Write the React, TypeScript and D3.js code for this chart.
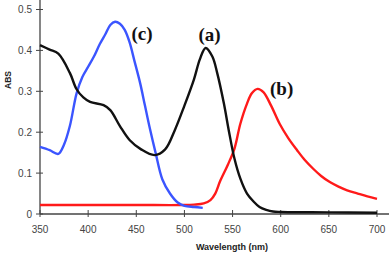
import React, { useEffect, useRef } from 'react';
import * as d3 from 'd3';

// curve (a) black
const aNm = [350, 360, 369, 381, 388, 395, 402, 416, 423, 433, 443, 455, 469, 480, 490, 500, 510, 516, 522, 529, 534, 541, 546, 552, 558, 565, 572, 578, 585, 592, 600, 650, 700];
const aAbs = [0.413, 0.402, 0.392, 0.345, 0.305, 0.285, 0.274, 0.266, 0.254, 0.215, 0.181, 0.158, 0.144, 0.158, 0.205, 0.265, 0.33, 0.378, 0.406, 0.385, 0.345, 0.27, 0.205, 0.135, 0.087, 0.05, 0.03, 0.017, 0.01, 0.006, 0.005, 0.004, 0.003];

// curve (b) red
const bNm = [350, 400, 450, 500, 510, 520, 527, 532, 537, 545, 552, 558, 565, 570, 576, 582, 590, 599, 608, 617, 625, 634, 642, 651, 660, 669, 680, 690, 700];
const bAbs = [0.022, 0.022, 0.022, 0.022, 0.023, 0.026, 0.034, 0.05, 0.08, 0.12, 0.16, 0.22, 0.27, 0.295, 0.306, 0.298, 0.265, 0.22, 0.185, 0.156, 0.132, 0.11, 0.093, 0.078, 0.067, 0.058, 0.05, 0.043, 0.037];

// curve (c) blue
const cNm = [350, 360, 369, 375, 381, 388, 394, 400, 406, 412, 418, 423, 428, 433, 438, 443, 448, 454, 459, 464, 470, 477, 485, 493, 500, 510, 519];
const cAbs = [0.164, 0.156, 0.147, 0.17, 0.215, 0.295, 0.335, 0.36, 0.385, 0.415, 0.44, 0.462, 0.47, 0.465, 0.45, 0.42, 0.375, 0.32, 0.265, 0.21, 0.15, 0.085, 0.05, 0.028, 0.02, 0.017, 0.015];

const xTicks = [350, 400, 450, 500, 550, 600, 650, 700];
const yTicks = [0, 0.1, 0.2, 0.3, 0.4, 0.5];

const labels = [
  { text: '(a)', nm: 526, abs: 0.422 },
  { text: '(b)', nm: 601, abs: 0.292 },
  { text: '(c)', nm: 456, abs: 0.425 },
];

const App = () => {
  const ref = useRef<SVGSVGElement>(null);

  useEffect(() => {
    const svg = d3.select(ref.current);
    svg.selectAll('*').remove();

    const x = d3.scaleLinear().domain([350, 700]).range([40, 377]);
    const y = d3.scaleLinear().domain([0, 0.5]).range([214, 9.5]);
    const axisColor = '#444';

    // axes lines
    svg.append('line')
      .attr('x1', 40).attr('x2', 40).attr('y1', 0).attr('y2', y(0))
      .attr('stroke', axisColor).attr('stroke-width', 1.3);
    svg.append('line')
      .attr('x1', 40).attr('x2', 389).attr('y1', y(0)).attr('y2', y(0))
      .attr('stroke', axisColor).attr('stroke-width', 1.3);

    // y ticks
    yTicks.forEach(t => {
      svg.append('line')
        .attr('x1', 36).attr('x2', 43).attr('y1', y(t)).attr('y2', y(t))
        .attr('stroke', axisColor).attr('stroke-width', 1);
      svg.append('text')
        .attr('x', 32).attr('y', y(t) + 3.5)
        .attr('text-anchor', 'end')
        .attr('font-family', 'Arial, Liberation Sans, sans-serif')
        .attr('font-size', 10).attr('fill', '#444')
        .text(t === 0 ? '0' : d3.format('.1f')(t));
    });

    // x ticks
    xTicks.forEach(t => {
      svg.append('line')
        .attr('x1', x(t)).attr('x2', x(t)).attr('y1', y(0) - 4).attr('y2', y(0) + 3)
        .attr('stroke', axisColor).attr('stroke-width', 1);
      svg.append('text')
        .attr('x', x(t)).attr('y', 233)
        .attr('text-anchor', 'middle')
        .attr('font-family', 'Arial, Liberation Sans, sans-serif')
        .attr('font-size', 10).attr('fill', '#444')
        .text(t);
    });

    // axis titles
    svg.append('text')
      .attr('transform', 'translate(11, 80) rotate(-90)')
      .attr('text-anchor', 'middle')
      .attr('font-family', 'Arial, Liberation Sans, sans-serif')
      .attr('font-size', 8.5).attr('font-weight', 'bold').attr('fill', '#222')
      .text('ABS');
    svg.append('text')
      .attr('x', 232).attr('y', 250)
      .attr('text-anchor', 'middle')
      .attr('font-family', 'Arial, Liberation Sans, sans-serif')
      .attr('font-size', 9).attr('font-weight', 'bold').attr('fill', '#222')
      .text('Wavelength (nm)');

    const line = d3.line<[number, number]>()
      .x(d => x(d[0]))
      .y(d => y(d[1]))
      .curve(d3.curveCatmullRom.alpha(0.5));

    const series = [
      { nm: bNm, abs: bAbs, color: '#ff1a1a' },
      { nm: cNm, abs: cAbs, color: '#3b55ff' },
      { nm: aNm, abs: aAbs, color: '#111111' },
    ];
    series.forEach(s => {
      svg.append('path')
        .datum(s.nm.map((n, i) => [n, s.abs[i]] as [number, number]))
        .attr('d', line)
        .attr('fill', 'none')
        .attr('stroke', s.color)
        .attr('stroke-width', 2.4)
        .attr('stroke-linejoin', 'round');
    });

    // curve labels
    labels.forEach(l => {
      svg.append('text')
        .attr('x', x(l.nm)).attr('y', y(l.abs))
        .attr('text-anchor', 'middle')
        .attr('font-family', 'Liberation Serif, Times New Roman, serif')
        .attr('font-size', 19).attr('font-weight', 'bold').attr('fill', '#111')
        .text(l.text);
    });
  }, []);

  return (
    <svg ref={ref} width={390} height={255}
      style={{ position: 'absolute', left: 0, top: 0, background: '#fff' }} />
  );
};

export default App;
